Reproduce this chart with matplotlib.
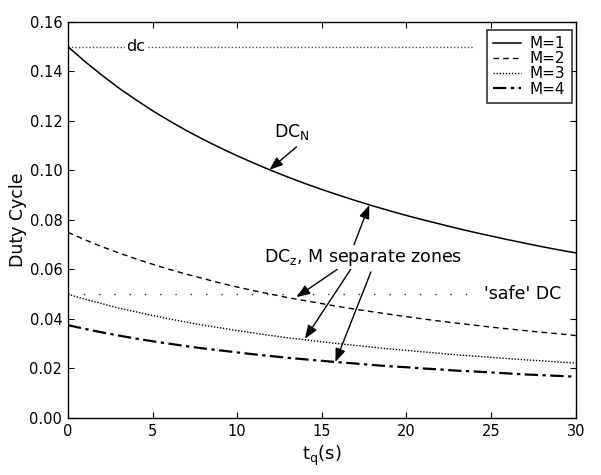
import matplotlib
matplotlib.use("Agg")
import matplotlib.pyplot as plt

t = list(range(0, 31))
dc_m1 = [0.1500, 0.1440, 0.1385, 0.1333, 0.1286, 0.1241, 0.1200, 0.1161,
         0.1125, 0.1091, 0.1059, 0.1029, 0.1000, 0.0973, 0.0947, 0.0923,
         0.0900, 0.0878, 0.0857, 0.0837, 0.0818, 0.0800, 0.0783, 0.0766,
         0.0750, 0.0735, 0.0720, 0.0706, 0.0692, 0.0679, 0.0667]
dc_m2 = [0.0750, 0.0720, 0.0692, 0.0667, 0.0643, 0.0621, 0.0600, 0.0581,
         0.0563, 0.0545, 0.0529, 0.0514, 0.0500, 0.0486, 0.0474, 0.0462,
         0.0450, 0.0439, 0.0429, 0.0419, 0.0409, 0.0400, 0.0391, 0.0383,
         0.0375, 0.0367, 0.0360, 0.0353, 0.0346, 0.0340, 0.0333]
dc_m3 = [0.0500, 0.0480, 0.0462, 0.0444, 0.0429, 0.0414, 0.0400, 0.0387,
         0.0375, 0.0364, 0.0353, 0.0343, 0.0333, 0.0324, 0.0316, 0.0308,
         0.0300, 0.0293, 0.0286, 0.0279, 0.0273, 0.0267, 0.0261, 0.0255,
         0.0250, 0.0245, 0.0240, 0.0235, 0.0231, 0.0226, 0.0222]
dc_m4 = [0.0375, 0.0360, 0.0346, 0.0333, 0.0321, 0.0310, 0.0300, 0.0290,
         0.0281, 0.0273, 0.0265, 0.0257, 0.0250, 0.0243, 0.0237, 0.0231,
         0.0225, 0.0220, 0.0214, 0.0209, 0.0205, 0.0200, 0.0196, 0.0191,
         0.0188, 0.0184, 0.0180, 0.0176, 0.0173, 0.0170, 0.0167]
labels = ["M=1", "M=2", "M=3", "M=4"]
dc_level = 0.15
safe_level = 0.05
line_end = 24

plt.rcParams['font.family'] = ['DejaVu Sans']
fig = plt.figure(figsize=(6.01, 4.75), dpi=100)
ax = fig.add_axes([0.113, 0.12, 0.845, 0.834])

ax.plot([0, line_end], [dc_level, dc_level], color='k', lw=1, linestyle=(0, (1, 1.5)), alpha=0.7)
ax.plot([0, line_end], [safe_level, safe_level], color='k', lw=1, linestyle=(0, (1, 10)), alpha=0.8)

ax.plot(t, dc_m1, 'k-', lw=1.1, label=labels[0])
ax.plot(t, dc_m2, color='k', lw=1, linestyle=(0, (4, 3)), label=labels[1])
ax.plot(t, dc_m3, color='k', lw=1, linestyle=(0, (1, 1.2)), label=labels[2])
ax.plot(t, dc_m4, color='k', lw=1.6, linestyle=(0, (6, 2, 1.5, 2)), label=labels[3])

ax.set_xlim(0, 30)
ax.set_ylim(0, 0.16)
ax.set_xticks([0, 5, 10, 15, 20, 25, 30])
ax.set_yticks([0.00, 0.02, 0.04, 0.06, 0.08, 0.10, 0.12, 0.14, 0.16])
ax.set_yticklabels(["0.00", "0.02", "0.04", "0.06", "0.08", "0.10", "0.12", "0.14", "0.16"])
ax.tick_params(direction='in', top=True, right=True, labelsize=10.5, length=4, pad=4)
for s in ax.spines.values():
    s.set_linewidth(1.0)
ax.set_xlabel(r"t$_\mathregular{q}$(s)", fontsize=13)
ax.set_ylabel("Duty Cycle", fontsize=12.5, labelpad=2)

ax.text(4.0, dc_level, "dc", fontsize=11.5, ha='center', va='center',
        bbox=dict(facecolor='white', edgecolor='none', pad=1))
ax.text(24.6, safe_level, "'safe' DC", fontsize=12.5, ha='left', va='center')
ax.text(12.2, 0.1115, r"DC$_\mathregular{N}$", fontsize=12.5, ha='left', va='bottom')
ax.text(11.6, 0.0648, r"DC$_\mathregular{z}$, M separate zones", fontsize=12.5, ha='left', va='center')

ap = dict(arrowstyle='-|>,head_length=0.45,head_width=0.17', color='k', lw=1,
          mutation_scale=18, shrinkA=0, shrinkB=0)
ax.annotate("", xy=(11.9, 0.1002), xytext=(13.5, 0.1095), arrowprops=ap)
ax.annotate("", xy=(17.8, 0.0860), xytext=(16.9, 0.0700), arrowprops=ap)
ax.annotate("", xy=(13.5, 0.0488), xytext=(15.9, 0.0600), arrowprops=ap)
ax.annotate("", xy=(14.0, 0.0320), xytext=(16.7, 0.0600), arrowprops=ap)
ax.annotate("", xy=(15.8, 0.0226), xytext=(17.9, 0.0590), arrowprops=ap)

leg = ax.legend(loc='upper right', bbox_to_anchor=(0.992, 0.980), fontsize=11,
                frameon=True, fancybox=False, edgecolor='k', handlelength=1.8,
                borderpad=0.4, labelspacing=0.02, handletextpad=0.6,
                borderaxespad=0)
leg.get_frame().set_linewidth(1.2)

fig.savefig("out.png", dpi=100, facecolor='white')
